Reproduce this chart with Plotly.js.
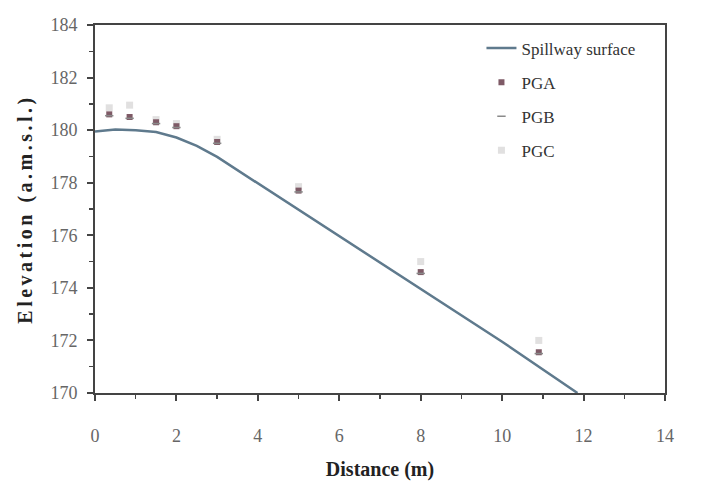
<!DOCTYPE html>
<html>
<head>
<meta charset="utf-8">
<script src="https://cdn.plot.ly/plotly-3.0.1.min.js"></script>
<style>
html,body{margin:0;padding:0;background:#fff;}
#chart{width:704px;height:487px;}
#chart .ytitle{letter-spacing:3.5px;}
</style>
</head>
<body>
<div id="chart"></div>
<script>
// Spillway surface profile
const surfaceX = [0, 0.5, 1, 1.5, 2, 2.5, 3, 4, 6, 8, 10, 11.85];
const surfaceY = [179.95, 180.02, 180.0, 179.93, 179.72, 179.4, 178.98, 177.98, 175.97, 173.96, 171.95, 170.0];
// Measurement points
const pgaX = [0.35, 0.85, 1.5, 2, 3, 5, 8, 10.9];
const pgaY = [180.6, 180.5, 180.3, 180.15, 179.55, 177.7, 174.6, 171.55];
const pgbX = [0.35, 0.85, 1.5, 2, 3, 5, 8, 10.9];
const pgbY = [180.55, 180.45, 180.25, 180.1, 179.5, 177.65, 174.55, 171.5];
const pgcX = [0.35, 0.85, 1.5, 2, 3, 5, 8, 10.9];
const pgcY = [180.85, 180.95, 180.4, 180.25, 179.65, 177.85, 175.0, 172.0];
const xTicks = [0, 2, 4, 6, 8, 10, 12, 14];
const yTicks = [170, 172, 174, 176, 178, 180, 182, 184];

const serif = "'Liberation Serif', 'Times New Roman', serif";
const traces = [
  {x: surfaceX, y: surfaceY, mode: 'lines', name: 'Spillway surface', legendgroup: 'a',
   line: {color: '#5f7a8d', width: 2.5}},
  {x: pgcX, y: pgcY, mode: 'markers', name: 'PGC', legendgroup: 'd', showlegend: false,
   marker: {symbol: 'square', size: 7, color: 'rgba(220,218,218,0.85)', line: {width: 0}}},
  {x: pgaX, y: pgaY, mode: 'markers', name: 'PGA', legendgroup: 'b',
   marker: {symbol: 'square', size: 6, color: '#7e5a66', line: {width: 0}}},
  {x: pgbX, y: pgbY, mode: 'markers', name: 'PGB', legendgroup: 'c',
   marker: {symbol: 'line-ew', size: 6, color: '#8a8a8a', line: {width: 1.5, color: '#8a8a8a'}}},
  {x: [null], y: [null], mode: 'markers', name: 'PGC', legendgroup: 'd',
   marker: {symbol: 'square', size: 7, color: 'rgba(220,218,218,0.85)', line: {width: 0}}}
];

const axisCommon = {
  showline: true, mirror: true, linecolor: '#444', linewidth: 2,
  ticks: 'outside', ticklen: 6, tickwidth: 2, tickcolor: '#444',
  showgrid: false, zeroline: false,
  tickfont: {family: serif, size: 18, color: '#666'},
  minor: {ticks: 'outside', ticklen: 4, tickwidth: 1.5, tickcolor: '#444', dtick: 1}
};

const layout = {
  width: 704, height: 487,
  margin: {l: 95, r: 39, t: 25, b: 94},
  paper_bgcolor: '#fff', plot_bgcolor: '#fff',
  showlegend: true,
  legend: {x: 0.678, y: 0.985, xanchor: 'left', yanchor: 'top',
           font: {family: serif, size: 17, color: '#333'},
           tracegroupgap: 9, bgcolor: 'rgba(255,255,255,0)', traceorder: 'grouped'},
  xaxis: Object.assign({}, axisCommon, {
    range: [0, 14], tickvals: xTicks, ticktext: xTicks.map(String), ticklabelstandoff: 19,
    title: {text: '<b>Distance (m)</b>', font: {family: serif, size: 20, color: '#222'}, standoff: 17}
  }),
  yaxis: Object.assign({}, axisCommon, {
    range: [170, 184], tickvals: yTicks, ticktext: yTicks.map(String), ticklabelstandoff: 6,
    title: {text: '<b>Elevation (a.m.s.l.)</b>', font: {family: serif, size: 20, color: '#222'}, standoff: 12}
  })
};

Plotly.newPlot('chart', traces, layout, {displayModeBar: false, staticPlot: true});
</script>
</body>
</html>
